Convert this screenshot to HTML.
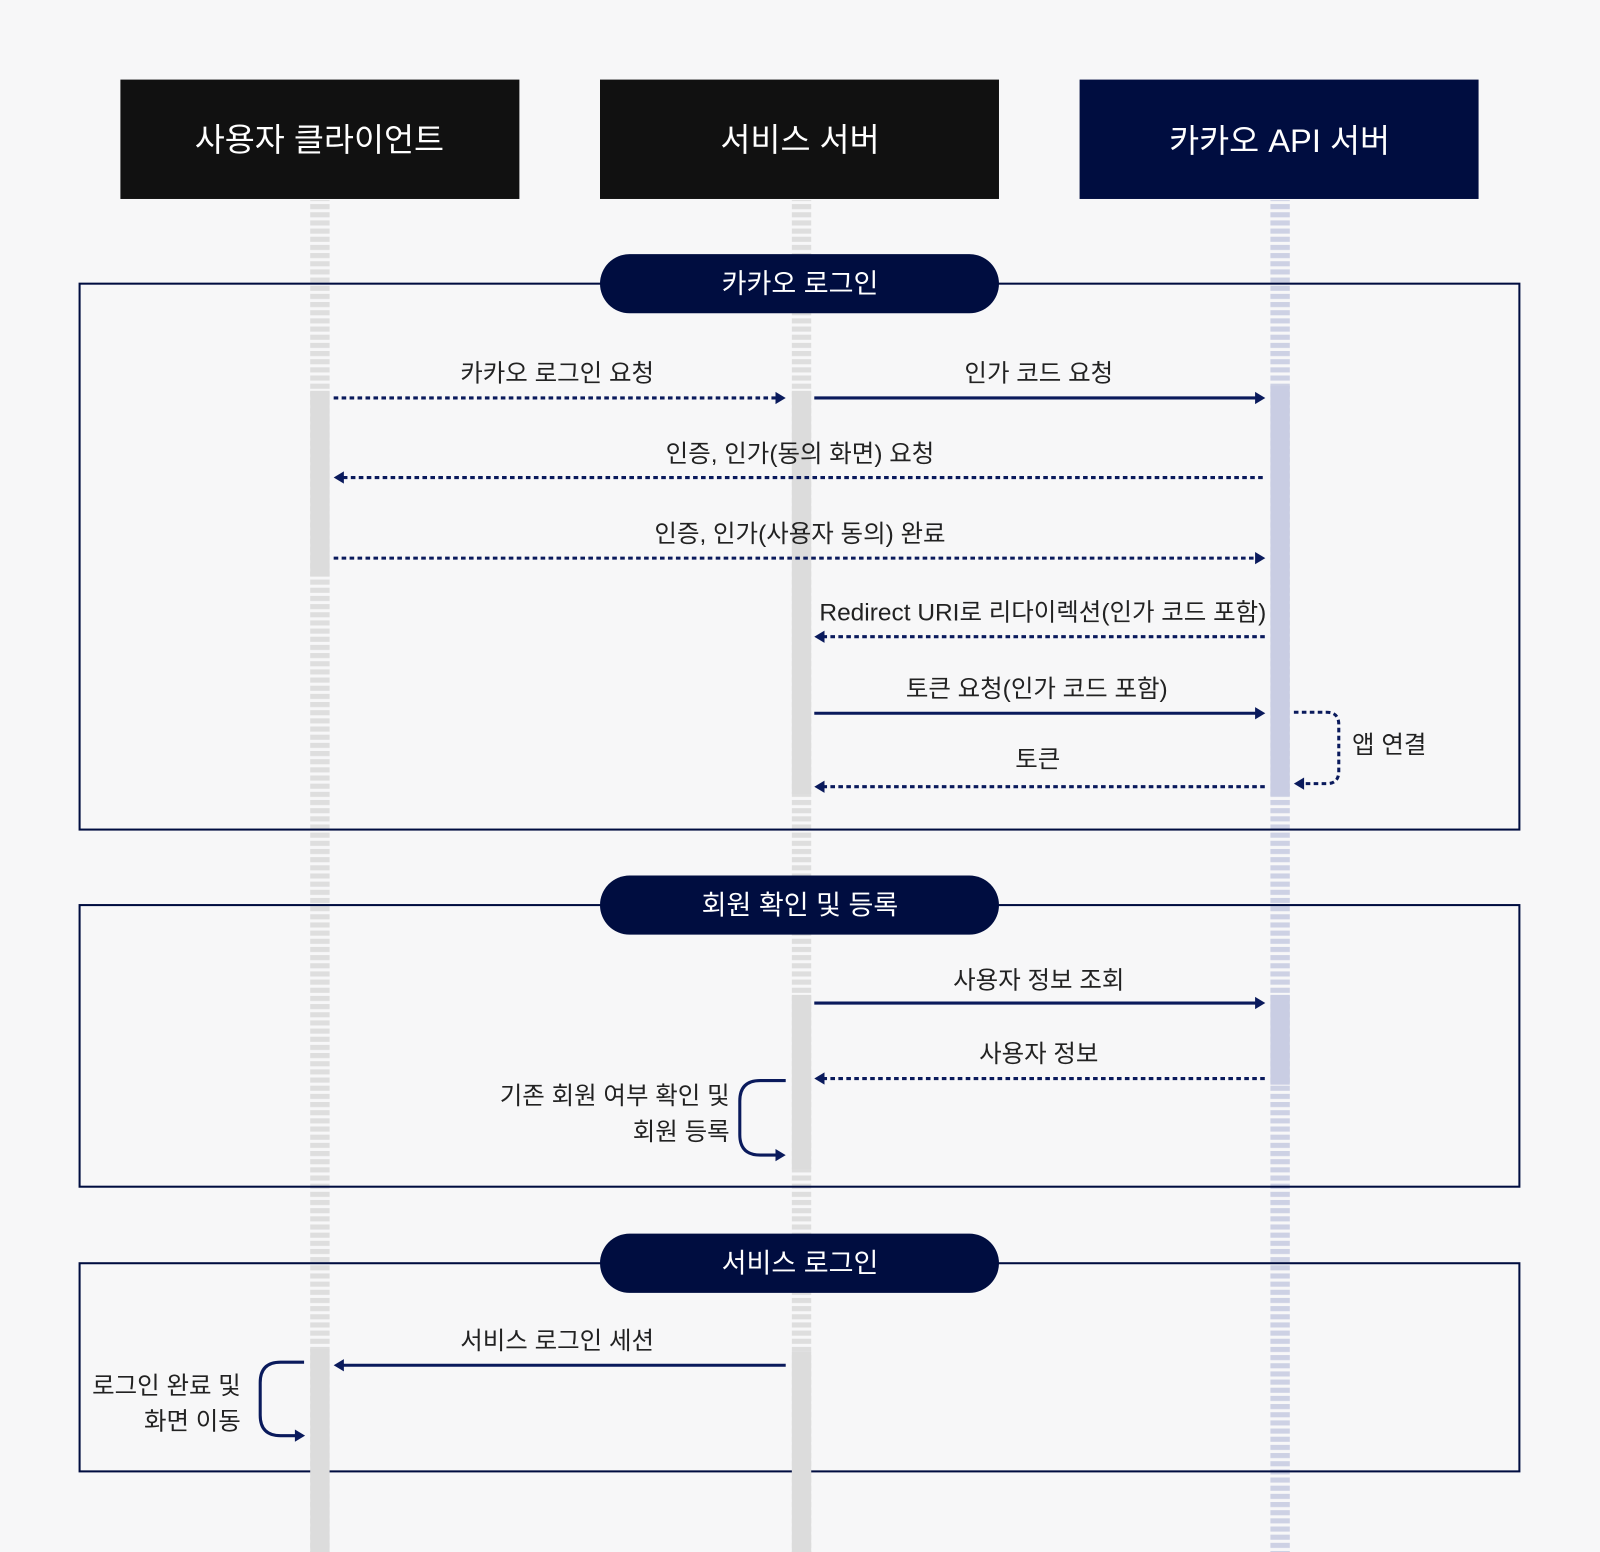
<!DOCTYPE html>
<html><head><meta charset="utf-8"><style>
html,body{margin:0;padding:0;background:#f7f7f8;}
svg{display:block;}
text{font-family:"Liberation Sans","Noto Sans CJK KR",sans-serif;}
</style></head><body>
<svg width="1600" height="1552" viewBox="0 0 1568 1521" preserveAspectRatio="none" xmlns="http://www.w3.org/2000/svg">
<defs>
<pattern id="g" width="19" height="8" patternUnits="userSpaceOnUse"><rect width="19" height="5" fill="#dedede"/></pattern>
<pattern id="b" width="19" height="8" patternUnits="userSpaceOnUse"><rect width="19" height="5" fill="#cdd1e4"/></pattern>
</defs>
<rect width="1568" height="1521" fill="#f7f7f8"/>
<rect x="304" y="196" width="19" height="1325" fill="url(#g)"/>
<rect x="776" y="196" width="19" height="1325" fill="url(#g)"/>
<rect x="1245" y="196" width="19" height="1325" fill="url(#b)"/>
<g fill="none" stroke="#000d40" stroke-width="2">
<rect x="78" y="278" width="1411" height="535"/>
<rect x="78" y="887" width="1411" height="276"/>
<rect x="78" y="1238" width="1411" height="204"/>
</g>
<g fill="#dcdcdc">
<rect x="304" y="383" width="19" height="182"/>
<rect x="304" y="1322" width="19" height="199"/>
<rect x="776" y="383" width="19" height="395"/>
<rect x="776" y="975" width="19" height="171"/>
<rect x="776" y="1325" width="19" height="196"/>
</g>
<g fill="#c9cde3">
<rect x="1245" y="378" width="19" height="402"/>
<rect x="1245" y="975" width="19" height="88"/>
</g>
<rect x="118" y="78" width="391" height="117" fill="#111111"/>
<rect x="588" y="78" width="391" height="117" fill="#111111"/>
<rect x="1058" y="78" width="391" height="117" fill="#000d40"/>
<g fill="#fff" font-size="32" text-anchor="middle">
<text x="313" y="148">사용자 클라이언트</text>
<text x="784" y="148">서비스 서버</text>
<text x="1254" y="149">카카오 API 서버</text>
</g>
<g fill="#000d40">
<rect x="588" y="249" width="391" height="58" rx="29"/>
<rect x="588" y="858" width="391" height="58" rx="29"/>
<rect x="588" y="1209" width="391" height="58" rx="29"/>
</g>
<g fill="#fff" font-size="26.5" text-anchor="middle">
<text x="784" y="287">카카오 로그인</text>
<text x="784" y="896">회원 확인 및 등록</text>
<text x="784" y="1247">서비스 로그인</text>
</g>
<g stroke="#0a1a5c" stroke-width="3" fill="none">
<line x1="327" y1="390" x2="762" y2="390" stroke-dasharray="4.5 3.3"/>
<line x1="798" y1="390" x2="1232" y2="390"/>
<line x1="336" y1="468" x2="1240" y2="468" stroke-dasharray="4.5 3.3"/>
<line x1="327" y1="547" x2="1232" y2="547" stroke-dasharray="4.5 3.3"/>
<line x1="806" y1="624" x2="1240" y2="624" stroke-dasharray="4.5 3.3"/>
<line x1="798" y1="699" x2="1232" y2="699"/>
<line x1="806" y1="771" x2="1240" y2="771" stroke-dasharray="4.5 3.3"/>
<path d="M1268 698 H1300 Q1312 698 1312 710 V756 Q1312 768 1300 768 H1278" stroke-dasharray="4.5 3.3"/>
<line x1="798" y1="983" x2="1232" y2="983"/>
<line x1="806" y1="1057" x2="1240" y2="1057" stroke-dasharray="4.5 3.3"/>
<path d="M770 1059 H745 Q725 1059 725 1079 V1112 Q725 1132 745 1132 H762"/>
<line x1="336" y1="1338" x2="770" y2="1338"/>
<path d="M298 1335 H275 Q255 1335 255 1355 V1387 Q255 1407 275 1407 H290"/>
</g>
<g fill="#0a1a5c">
<path d="M770 390 l-10 -6 v12z"/>
<path d="M1240 390 l-10 -6 v12z"/>
<path d="M327 468 l10 -6 v12z"/>
<path d="M1240 547 l-10 -6 v12z"/>
<path d="M798 624 l10 -6 v12z"/>
<path d="M1240 699 l-10 -6 v12z"/>
<path d="M798 771 l10 -6 v12z"/>
<path d="M1268 768 l10 -6 v12z"/>
<path d="M1240 983 l-10 -6 v12z"/>
<path d="M798 1057 l10 -6 v12z"/>
<path d="M770 1132 l-10 -6 v12z"/>
<path d="M327 1338 l10 -6 v12z"/>
<path d="M299 1407 l-10 -6 v12z"/>
</g>
<g fill="#222" font-size="24" text-anchor="middle">
<text x="546" y="374">카카오 로그인 요청</text>
<text x="1018" y="374">인가 코드 요청</text>
<text x="784" y="453">인증, 인가(동의 화면) 요청</text>
<text x="784" y="531">인증, 인가(사용자 동의) 완료</text>
<text x="1022" y="608">Redirect URI로 리다이렉션(인가 코드 포함)</text>
<text x="1016" y="683">토큰 요청(인가 코드 포함)</text>
<text x="1017" y="752">토큰</text>
<text x="1018" y="969">사용자 정보 조회</text>
<text x="1018" y="1041">사용자 정보</text>
<text x="546" y="1322">서비스 로그인 세션</text>
</g>
<g fill="#222" font-size="24">
<text x="1325" y="738">앱 연결</text>
</g>
<g fill="#222" font-size="24" text-anchor="end">
<text x="715" y="1082">기존 회원 여부 확인 및</text>
<text x="715" y="1117">회원 등록</text>
<text x="236" y="1366">로그인 완료 및</text>
<text x="236" y="1401">화면 이동</text>
</g>
</svg>
</body></html>
